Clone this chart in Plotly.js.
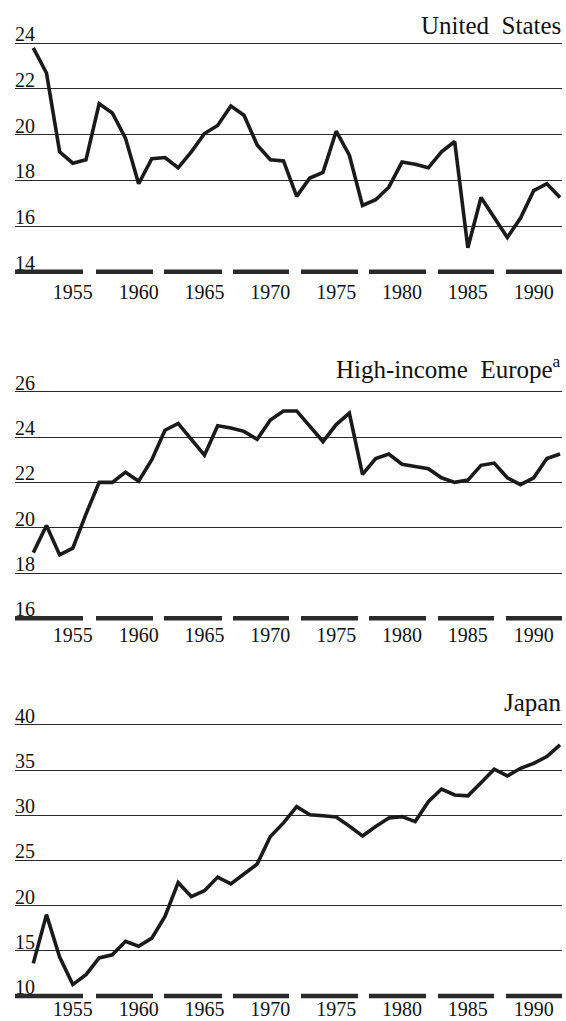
<!DOCTYPE html>
<html><head><meta charset="utf-8">
<script src="https://cdn.plot.ly/plotly-3.0.1.min.js"></script>
<style>html,body{margin:0;padding:0;background:#fff}#chart{width:566px;height:1021px}</style>
</head><body><div id="chart"></div>
<script>
const years = [1952,1953,1954,1955,1956,1957,1958,1959,1960,1961,1962,1963,1964,1965,1966,1967,1968,1969,1970,1971,1972,1973,1974,1975,1976,1977,1978,1979,1980,1981,1982,1983,1984,1985,1986,1987,1988,1989,1990,1991,1992];
const usValues = [23.8,22.7,19.25,18.75,18.9,21.35,20.95,19.85,17.85,18.95,19.0,18.55,19.25,20.05,20.4,21.25,20.85,19.55,18.9,18.85,17.3,18.1,18.35,20.15,19.1,16.9,17.15,17.7,18.8,18.7,18.55,19.25,19.7,15.05,17.25,16.4,15.5,16.35,17.55,17.85,17.25];
const europeValues = [18.9,20.1,18.8,19.1,20.6,22.0,22.0,22.45,22.05,23.0,24.3,24.6,23.9,23.2,24.5,24.4,24.25,23.9,24.75,25.15,25.15,24.5,23.8,24.55,25.05,22.35,23.05,23.25,22.8,22.7,22.6,22.2,22.0,22.1,22.75,22.85,22.2,21.9,22.2,23.05,23.25];
const japanValues = [13.6,19.0,14.3,11.25,12.35,14.2,14.55,16.05,15.5,16.4,18.8,22.55,21.0,21.65,23.15,22.4,23.5,24.6,27.65,29.15,30.95,30.05,29.95,29.8,28.8,27.7,28.75,29.7,29.85,29.3,31.5,32.9,32.25,32.15,33.6,35.1,34.35,35.2,35.75,36.5,37.8];
const yearTicks = [1955,1960,1965,1970,1975,1980,1985,1990];
const usTicks = [14,16,18,20,22,24];
const europeTicks = [16,18,20,22,24,26];
const japanTicks = [10,15,20,25,30,35,40];
const panelTitles = ['United  States', 'High-income  Europe<sup>a</sup>', 'Japan'];

const lineStyle = {color:'#1a1a1a', width:3.6};
const traces = [
  {x:years, y:usValues, xaxis:'x', yaxis:'y', type:'scatter', mode:'lines', line:lineStyle, hoverinfo:'skip'},
  {x:years, y:europeValues, xaxis:'x2', yaxis:'y2', type:'scatter', mode:'lines', line:lineStyle, hoverinfo:'skip'},
  {x:years, y:japanValues, xaxis:'x3', yaxis:'y3', type:'scatter', mode:'lines', line:lineStyle, hoverinfo:'skip'}
];
const tickFont = {family:'Liberation Serif', size:20, color:'#111111'};
const xRange = [1950.61, 1992.15];
function xa(anchor, standoff){
  return {anchor:anchor, range:xRange, tickvals:yearTicks, ticktext:yearTicks.map(String),
    ticklabelstandoff:standoff,
    showgrid:false, zeroline:false, showline:false, ticks:'', tickfont:tickFont, fixedrange:true};
}
function ya(domain, range, ticks){
  return {domain:domain, range:range, tickvals:ticks, ticktext:ticks.map(String),
    ticklabelposition:'inside top', ticklabelshift:5, ticklabelstandoff:-3,
    showgrid:true, gridcolor:'#2a2a2a', gridwidth:1,
    zeroline:false, showline:false, ticks:'', tickfont:tickFont, fixedrange:true};
}
const dash = '68px,13px,57px,11px,58px,11px,56px,12px,57px,11px,57px,12px,56px,12px,56px';
function bars(yref, base){
  return [
    {type:'line', xref:'paper', x0:0, x1:1, yref:yref, y0:base, y1:base,
      line:{color:'#ffffff', width:3}},
    {type:'line', xref:'paper', x0:0, x1:1, yref:yref, y0:base, y1:base,
      line:{color:'#2a2a2a', width:4.5, dash:dash}}
  ];
}
const titleFont = {family:'Liberation Serif', size:25, color:'#111111'};
function title(text, y){
  return {text:text, xref:'paper', yref:'paper', x:1, y:y, xanchor:'right', yanchor:'bottom',
    showarrow:false, font:titleFont, borderpad:0};
}
const layout = {
  width:566, height:1021,
  margin:{l:15, r:4, t:0, b:0, autoexpand:false},
  paper_bgcolor:'#ffffff', plot_bgcolor:'#ffffff',
  showlegend:false,
  font:{family:'Liberation Serif', color:'#111111'},
  xaxis:xa('y', -2), xaxis2:xa('y2', -5), xaxis3:xa('y3', -9),
  yaxis:ya([0.72605,0.98668],[13.65,25.3],usTicks),
  yaxis2:ya([0.38658,0.64525],[15.65,27.3],europeTicks),
  yaxis3:ya([0.01665,0.31871],[9.1,43.25],japanTicks),
  shapes:[].concat(bars('y', usTicks[0]), bars('y2', europeTicks[0]), bars('y3', japanTicks[0])),
  annotations:[title(panelTitles[0],0.9608), title(panelTitles[1],0.6239), title(panelTitles[2],0.2977)]
};
Plotly.newPlot('chart', traces, layout, {staticPlot:true, displayModeBar:false});
</script>
</body></html>
